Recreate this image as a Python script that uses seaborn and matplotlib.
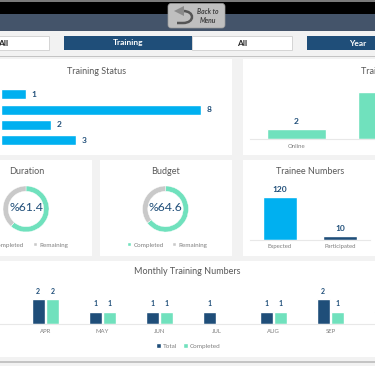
import pandas as pd
import matplotlib.pyplot as plt
from matplotlib.patches import Rectangle, FancyBboxPatch, PathPatch, Polygon
from matplotlib.path import Path
import seaborn as sns

# data
status_names = ['Planned', 'Completed', 'In Progress', 'Postponed']
status_values = [1, 8, 2, 3]
type_names = ['Online', 'Classroom']
type_values = [2, 9]
trainee_names = ['Expected', 'Participated']
trainee_values = [120, 10]
donut_labels = ['Completed', 'Remaining']
duration_pct = [61.4, 38.6]
budget_pct = [64.6, 35.4]
months = ['APR', 'MAY', 'JUN', 'JUL', 'AUG', 'SEP', 'OCT']
month_total = [2, 1, 1, 1, 1, 2, 1]
month_completed = [2, 1, 1, 0, 1, 1, 0]

BLUE = '#00b0f0'
NAVY = '#1f4e79'
MINT = '#70e1bd'
GREY = '#c9c9c9'
TITLE = '#595959'
LABEL = '#7f7f7f'
LINE = '#e8e8e8'
W, H = 375, 366

sns.set_theme(style='white')
plt.rcParams['font.family'] = ['Lato', 'DejaVu Sans']

fig = plt.figure(figsize=(W / 100, H / 100), dpi=100, facecolor='#f2f2f2')
bg = fig.add_axes([0, 0, 1, 1])
bg.set_xlim(0, W)
bg.set_ylim(H, 0)
bg.axis('off')


def box(x0, y0, x1, y1, color, **kw):
    bg.add_patch(Rectangle((x0, y0), x1 - x0, y1 - y0, facecolor=color, edgecolor=kw.pop('edge', 'none'), lw=kw.pop('lw', 0), **kw))


def sub_axes(x0, y0, x1, y1):
    ax = fig.add_axes([x0 / W, 1 - y1 / H, (x1 - x0) / W, (y1 - y0) / H])
    ax.patch.set_alpha(0)
    return ax


def clean(ax):
    sns.despine(ax=ax, left=True)
    ax.spines['bottom'].set_color(LINE)
    ax.spines['bottom'].set_linewidth(0.8)
    ax.set_xlabel('')
    ax.set_ylabel('')
    ax.set_yticks([])
    ax.tick_params(axis='x', length=0, pad=3.5, labelsize=4.3, labelcolor=LABEL)


# header bands
box(0, 0, W, 1.5, '#7a7a7a')
box(0, 1.5, W, 14, '#000000')
box(0, 14, W, 31, '#44546a')
box(0, 55.5, W, 57, '#c4c4c4')
box(0, 361, W, 363, '#c4c4c4')

# back button
bg.add_patch(FancyBboxPatch((168, 3.5), 57, 24.5, boxstyle='round,pad=0,rounding_size=3', facecolor='#bfbfbf', edgecolor='#9a9a9a', lw=0.5, zorder=3))
arrow = Path([(183, 11), (195, 11), (195, 23), (183, 23), (177, 23)],
             [Path.MOVETO, Path.CURVE4, Path.CURVE4, Path.CURVE4, Path.LINETO])
bg.add_patch(PathPatch(arrow, facecolor='none', edgecolor='#555555', lw=1.8, zorder=4))
bg.add_patch(Polygon([(174, 11), (184, 6), (184, 16)], facecolor='#8a8a8a', edgecolor='none', zorder=4))
bg.text(208, 16, 'Back to\nMenu', ha='center', va='center', fontsize=4.9, style='italic', weight='bold', color='#404040', linespacing=1.35, zorder=4)

# filter row
box(-2, 35.5, 49, 50, 'white', edge='#cfcfcf', lw=0.6)
box(64, 35.5, 192, 50, NAVY)
box(192, 35.5, 292, 50, 'white', edge='#cfcfcf', lw=0.6)
box(307, 35.5, W + 2, 50, NAVY)
filter_style = dict(ha='center', va='center', fontsize=6, weight='bold')
bg.text(3, 43, 'All', color='#262626', **filter_style)
bg.text(128, 43, 'Training', color='white', **filter_style)
bg.text(242, 43, 'All', color='#262626', **filter_style)
bg.text(358, 43, 'Year', color='white', **filter_style)

# white panels
for x0, y0, x1, y1 in [(0, 59, 232, 155), (243, 59, W, 155), (0, 160, 92, 256),
                       (100, 160, 232, 256), (243, 160, W, 256), (0, 261, W, 357)]:
    box(x0, y0, x1, y1, 'white')

title_style = dict(ha='center', va='center', fontsize=6.5, color=TITLE)
bg.text(97, 71.5, 'Training Status', **title_style)
bg.text(361, 71.5, 'Training Type', ha='left', va='center', fontsize=6.5, color=TITLE)
bg.text(26.5, 171.5, 'Duration', **title_style)
bg.text(165.5, 171.5, 'Budget', **title_style)
bg.text(310.5, 171.5, 'Trainee Numbers', **title_style)
bg.text(187.5, 272, 'Monthly Training Numbers', **title_style)

value_style = dict(fontsize=6, weight='bold', color=NAVY)

# training status
ax = sub_axes(1, 86.5, 232, 148)
sns.barplot(x=status_values, y=status_names, color=BLUE, width=0.65, saturation=1, ax=ax)
ax.set_xlim(0, 231 / 25)
ax.bar_label(ax.containers[0], padding=4, **value_style)
ax.axis('off')

# training type, second category runs off the right edge
ax = sub_axes(250, 85, W, 139.5)
sns.barplot(x=type_names, y=type_values, color=MINT, width=0.648, saturation=1, ax=ax)
ax.set_xlim(-0.511, 0.863)
ax.set_ylim(0, 54.5 / 5.3)
ax.bar_label(ax.containers[0], padding=3, **value_style)
clean(ax)

# trainee numbers
ax = sub_axes(250, 185, 370, 239.5)
sns.barplot(x=trainee_names, y=trainee_values, hue=trainee_names, palette=[BLUE, NAVY], width=0.57, saturation=1, legend=False, ax=ax)
ax.set_ylim(0, 54.5 / 42.5 * 120)
for c in ax.containers:
    ax.bar_label(c, padding=3, **value_style)
clean(ax)

# donuts
for cx, pct, in [(26, duration_pct), (165.5, budget_pct)]:
    ax = sub_axes(cx - 23, 186, cx + 23, 232)
    wedges, _ = ax.pie(pct, colors=[MINT, GREY], startangle=90, counterclock=False, radius=1,
                       wedgeprops=dict(width=0.23, edgecolor='white', lw=0.3))
    ax.set_xlim(-1, 1)
    ax.set_ylim(-1, 1)
    ax.text(0, 0.07, '%' + str(pct[0]), ha='center', va='center', fontsize=8.8, color=NAVY)
    ax.legend(wedges, donut_labels, loc='center', bbox_to_anchor=(cx + 2.5, 245), bbox_transform=bg.transData,
              ncol=2, frameon=False, fontsize=4.5, labelcolor=LABEL, handlelength=0.45, handleheight=0.45,
              handletextpad=0.4, columnspacing=1.5, borderpad=0)

# monthly numbers
monthly = pd.DataFrame({'month': months, 'Total': month_total, 'Completed': month_completed})
monthly = monthly.melt(id_vars='month', var_name='kind', value_name='count')
ax = sub_axes(0, 285, W, 324.3)
sns.barplot(data=monthly, x='month', y='count', hue='kind', palette=[NAVY, MINT], width=0.52, gap=0.12, saturation=1, ax=ax)
ax.set_xlim(-0.798, 5.78)
ax.set_ylim(0, 39.3 / 12.65)
for c in ax.containers:
    ax.bar_label(c, labels=[str(int(v)) if v > 0 else '' for v in c.datavalues], padding=3, fontsize=5, weight='bold', color=NAVY)
clean(ax)
sns.move_legend(ax, 'center', bbox_to_anchor=(188.5, 346), bbox_transform=bg.transData, title=None, ncol=2, frameon=False,
                fontsize=4.6, labelcolor=LABEL, handlelength=0.7, handleheight=0.7, handletextpad=0.3, columnspacing=1, borderpad=0)

fig.savefig('out.png', dpi=100, facecolor=fig.get_facecolor())
